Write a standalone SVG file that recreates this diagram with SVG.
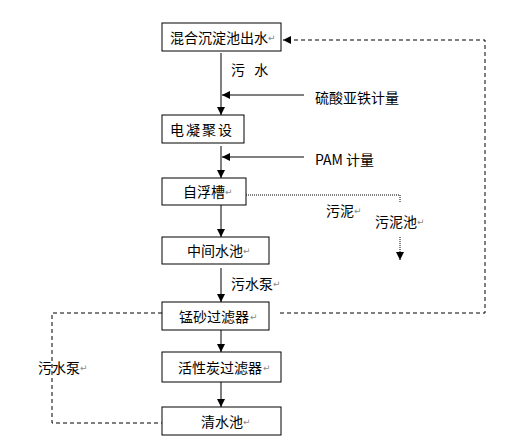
<svg xmlns="http://www.w3.org/2000/svg" width="517" height="441" viewBox="0 0 517 441">
<defs>
<marker id="ah" markerUnits="userSpaceOnUse" markerWidth="10" markerHeight="10" viewBox="0 0 10 10" refX="9" refY="5" orient="auto">
<path d="M1,1 L9,5 L1,9 Z" fill="#000"/>
</marker>
</defs>
<style>
.box{fill:#fff;stroke:#000;stroke-width:1}
.t{font-family:"Noto Sans CJK SC","Liberation Sans",sans-serif;font-size:14px;fill:#000;dominant-baseline:central}
.r{font-family:"DejaVu Sans",sans-serif;font-size:9px;fill:#888;dominant-baseline:central}
.ln{fill:none;stroke:#000;stroke-width:1}
.dash{fill:none;stroke:#000;stroke-width:1;stroke-dasharray:4 3}
.dot{fill:none;stroke:#000;stroke-width:1;stroke-dasharray:1 1}
</style>
<rect width="517" height="441" fill="#fff"/>
<g id="connectors">
<line class="ln" x1="221" y1="53" x2="221" y2="115" marker-end="url(#ah)"/>
<line class="ln" x1="221" y1="146" x2="221" y2="178" marker-end="url(#ah)"/>
<line class="ln" x1="221" y1="205" x2="221" y2="237" marker-end="url(#ah)"/>
<line class="ln" x1="221" y1="268" x2="221" y2="302" marker-end="url(#ah)"/>
<line class="ln" x1="221" y1="330" x2="221" y2="352" marker-end="url(#ah)"/>
<line class="ln" x1="221" y1="382" x2="221" y2="407" marker-end="url(#ah)"/>
<line class="ln" x1="304" y1="95" x2="222" y2="95" marker-end="url(#ah)"/>
<line class="ln" x1="304" y1="157" x2="222" y2="157" marker-end="url(#ah)"/>
<polyline class="dash" points="280,313 485,313 485,40 283,40" marker-end="url(#ah)"/>
<polyline class="dash" points="162,313 52,313 52,423 162,423"/>
<polyline class="dot" points="246,195 400,195 400,203"/>
<line class="dot" x1="400" y1="237" x2="400" y2="260" marker-end="url(#ah)"/>
<text class="t" x="231" y="69" letter-spacing="1" xml:space="preserve">污  水</text>
<text class="t" x="315" y="97">硫酸亚铁计量</text>
<text class="t" x="315" y="159">PAM 计量</text>
<text class="t" x="326" y="210">污泥</text><text class="r" x="354" y="211">↵</text>
<text class="t" x="375" y="221">污泥池</text><text class="r" x="417" y="222">↵</text>
<text class="t" x="231" y="283">污水泵</text><text class="r" x="273" y="284">↵</text>
<text class="t" x="38" y="367">污水泵</text><text class="r" x="80" y="368">↵</text>
</g>
<g id="n1"><rect class="box" x="162" y="23" width="119" height="28"/><text class="t" x="170" y="37">混合沉淀池出水</text><text class="r" x="268" y="38">↵</text></g>
<g id="n2"><rect class="box" x="162" y="115" width="82" height="28"/><text class="t" x="170" y="129" letter-spacing="2">电凝聚设</text></g>
<g id="n3"><rect class="box" x="162" y="178" width="84" height="27"/><text class="t" x="183" y="191">自浮槽</text><text class="r" x="225" y="192">↵</text></g>
<g id="n4"><rect class="box" x="162" y="237" width="107" height="27"/><text class="t" x="187" y="250">中间水池</text><text class="r" x="243" y="251">↵</text></g>
<g id="n5"><rect class="box" x="162" y="302" width="107" height="28"/><text class="t" x="179" y="316">锰砂过滤器</text><text class="r" x="250" y="317">↵</text></g>
<g id="n6"><rect class="box" x="162" y="352" width="119" height="30"/><text class="t" x="178" y="367">活性炭过滤器</text><text class="r" x="263" y="368">↵</text></g>
<g id="n7"><rect class="box" x="162" y="407" width="119" height="28"/><text class="t" x="201" y="421">清水池</text><text class="r" x="243" y="422">↵</text></g>
</svg>
